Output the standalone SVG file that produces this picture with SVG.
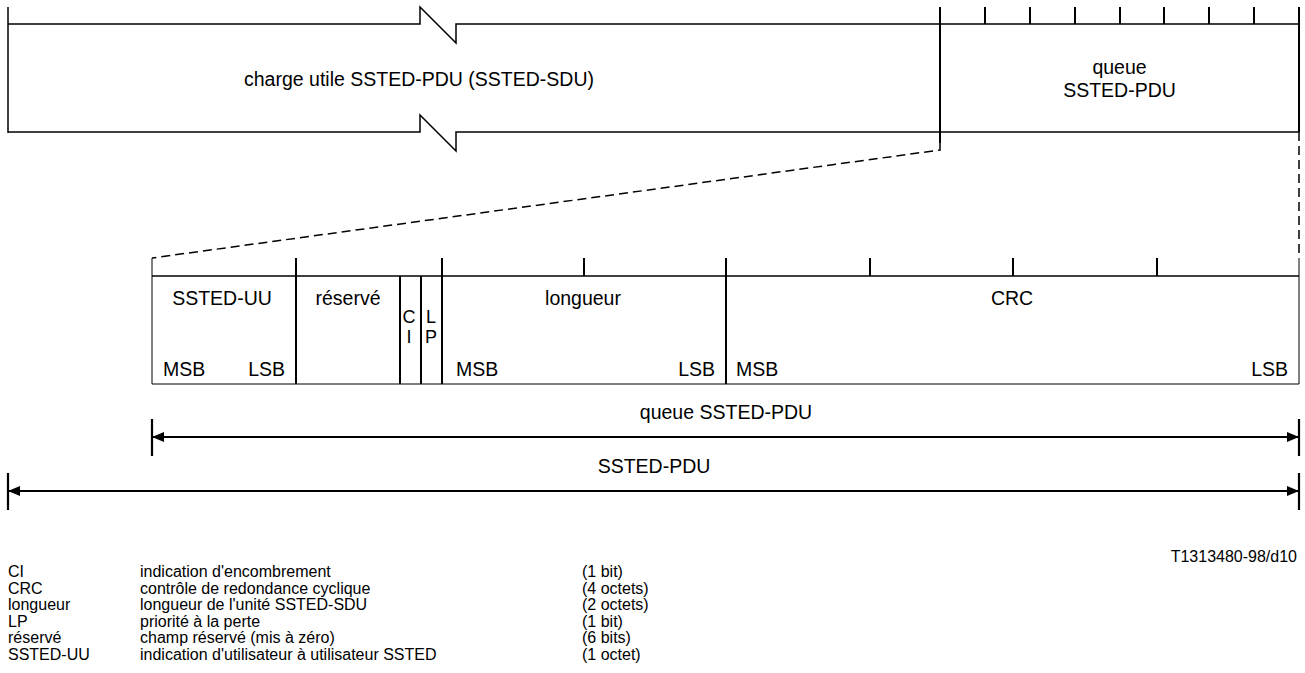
<svg xmlns="http://www.w3.org/2000/svg" width="1305" height="673" viewBox="0 0 1305 673">
<style>
.ln{fill:none;stroke:#000;stroke-width:1.5}
.th{fill:none;stroke:#000;stroke-width:2}
.tn{fill:none;stroke:#000;stroke-width:1}
.ds{fill:none;stroke:#000;stroke-width:1.5;stroke-dasharray:9,5}
.ar{fill:none;stroke:#000;stroke-width:2.2}
text{font-family:"Liberation Sans",Arial,sans-serif;fill:#000}
.m{font-size:19.5px}
.s{font-size:18px}
.c{text-anchor:middle}
.e{text-anchor:end}
.lg{font-size:16px}
</style>
<defs>
<marker id="ah" viewBox="0 0 12 10" refX="12" refY="5" markerUnits="userSpaceOnUse" markerWidth="12" markerHeight="10" orient="auto-start-reverse">
<path d="M0,0 L12,5 L0,10 z" fill="#000"/>
</marker>
</defs>
<rect width="1305" height="673" fill="#fff"/>

<g id="payload">
<path class="ln" d="M8,7 V133"/>
<path class="ln" d="M8,24 H420 V7 L456,43 V24 H940"/>
<path class="ln" d="M8,132 H420 V115 L456,151 V132 H940"/>
<text class="m c" x="419" y="86">charge utile SSTED-PDU (SSTED-SDU)</text>
</g>

<g id="trailer">
<path class="ln" d="M940,24 H1299 M940,132 H1299"/>
<path class="th" d="M940,7 V143 M1299,7 V132"/>
<path class="th" d="M985,7 V24 M1030,7 V24 M1075,7 V24 M1120,7 V24 M1164,7 V24 M1209,7 V24 M1254,7 V24"/>
<text class="m c" x="1119.5" y="74">queue</text>
<text class="m c" x="1119.5" y="97">SSTED-PDU</text>
</g>

<g id="expansion">
<path class="ds" d="M940,143 V150 L152,258"/>
<path class="ds" d="M1299,132 V258"/>
</g>

<g id="trailer-fields">
<path class="tn" d="M152,258 V384 M152,384 H1299 M1299,258 V384"/>
<path class="ln" d="M152,276 H1299"/>
<path class="th" d="M296,258 V384 M442,258 V384 M726,258 V384 M400,276 V384 M421,276 V384"/>
<path class="th" d="M584,258 V276 M870,258 V276 M1013,258 V276 M1157,258 V276"/>
</g>

<g id="field-sstedUU">
<text class="m c" x="222" y="305">SSTED-UU</text>
<text class="m" x="163" y="376">MSB</text>
<text class="m e" x="285" y="376">LSB</text>
</g>
<g id="field-reserve">
<text class="m c" x="348" y="305">réservé</text>
</g>
<g id="field-ci">
<text class="s c" x="409" y="323">C</text>
<text class="s c" x="409" y="343">I</text>
</g>
<g id="field-lp">
<text class="s c" x="431" y="323">L</text>
<text class="s c" x="431" y="343">P</text>
</g>
<g id="field-longueur">
<text class="m c" x="583" y="305">longueur</text>
<text class="m" x="456" y="376">MSB</text>
<text class="m e" x="715" y="376">LSB</text>
</g>
<g id="field-crc">
<text class="m c" x="1012" y="305">CRC</text>
<text class="m" x="736" y="376">MSB</text>
<text class="m e" x="1288" y="376">LSB</text>
</g>

<g id="connectors">
<path class="ar" d="M152,437 H1299" marker-start="url(#ah)" marker-end="url(#ah)"/>
<path class="ar" d="M152,419 V456 M1299,419 V456"/>
<path class="ar" d="M8,491 H1299" marker-start="url(#ah)" marker-end="url(#ah)"/>
<path class="ar" d="M8,473 V510 M1299,473 V510"/>
<text class="m c" x="726" y="419">queue SSTED-PDU</text>
<text class="m c" x="654" y="473">SSTED-PDU</text>
</g>

<g id="figure-id">
<text class="lg e" x="1297" y="562">T1313480-98/d10</text>
</g>

<g id="legend" class="lg">
<text class="lg" x="8" y="577">CI</text>
<text class="lg" x="140" y="577">indication d'encombrement</text>
<text class="lg" x="582" y="577">(1 bit)</text>
<text class="lg" x="8" y="593.5">CRC</text>
<text class="lg" x="140" y="593.5">contrôle de redondance cyclique</text>
<text class="lg" x="582" y="593.5">(4 octets)</text>
<text class="lg" x="8" y="610">longueur</text>
<text class="lg" x="140" y="610">longueur de l'unité SSTED-SDU</text>
<text class="lg" x="582" y="610">(2 octets)</text>
<text class="lg" x="8" y="626.5">LP</text>
<text class="lg" x="140" y="626.5">priorité à la perte</text>
<text class="lg" x="582" y="626.5">(1 bit)</text>
<text class="lg" x="8" y="643">réservé</text>
<text class="lg" x="140" y="643">champ réservé (mis à zéro)</text>
<text class="lg" x="582" y="643">(6 bits)</text>
<text class="lg" x="8" y="659.5">SSTED-UU</text>
<text class="lg" x="140" y="659.5">indication d'utilisateur à utilisateur SSTED</text>
<text class="lg" x="582" y="659.5">(1 octet)</text>
</g>
</svg>
